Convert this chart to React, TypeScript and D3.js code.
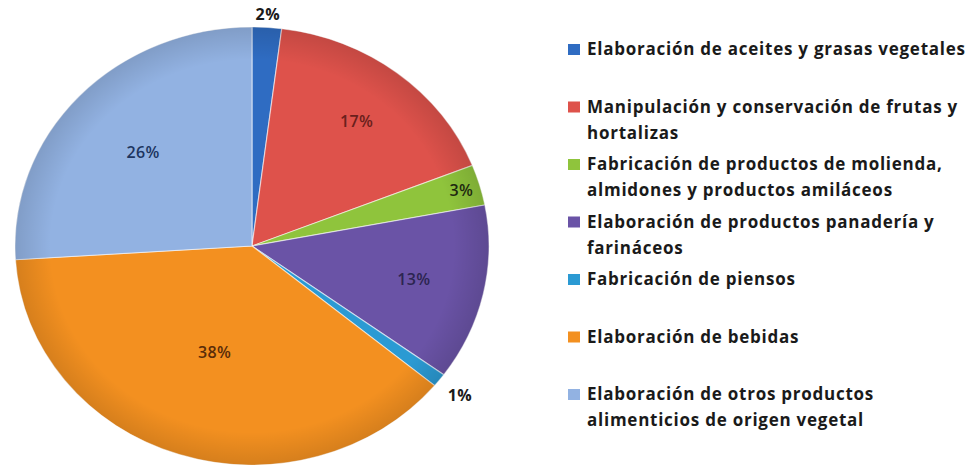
import React, { useRef, useEffect } from "react";
import * as d3 from "d3";

// Distribución por actividad (sector vegetal)
const categories = [
  ["Elaboración de aceites y grasas vegetales"],
  ["Manipulación y conservación de frutas y", "hortalizas"],
  ["Fabricación de productos de molienda,", "almidones y productos amiláceos"],
  ["Elaboración de productos panadería y", "farináceos"],
  ["Fabricación de piensos"],
  ["Elaboración de bebidas"],
  ["Elaboración de otros productos", "alimenticios de origen vegetal"],
];
const values = [2, 17, 3, 13, 1, 38, 26];
const colors = ["#2f6cc2", "#de524b", "#8fc43c", "#6a53a6", "#2b9ad3", "#f39020", "#92b2e2"];
const labelColors = ["#1a1a1a", "#6a1f1c", "#1f2a10", "#2c2550", "#1a1a1a", "#5a2c08", "#1d3560"];
// where Excel's "best fit" put each percentage label (fraction of the radius)
const labelRadius = [1.06, 0.72, 0.92, 0.7, 1.11, 0.51, 0.63];

const W = 973;
const H = 467;
const FONT = "'Open Sans', Lato, sans-serif";

export default function App() {
  const svgRef = useRef<SVGSVGElement>(null);

  useEffect(() => {
    const svg = d3.select(svgRef.current);
    svg.selectAll("*").remove();

    const cx = 252;
    const cy = 246;
    const rx = 237;
    const ry = 219;
    const k = ry / rx;

    const pie = d3.pie<number>().sort(null).value((d) => d);
    const arcs = pie(values);
    const arc = d3.arc<d3.PieArcDatum<number>>().innerRadius(0).outerRadius(rx);

    const g = svg
      .append("g")
      .attr("transform", `translate(${cx},${cy}) scale(1,${k})`);

    g.selectAll("path.slice")
      .data(arcs)
      .join("path")
      .attr("class", "slice")
      .attr("d", arc)
      .attr("fill", (d, i) => colors[i])
      .attr("stroke", "#ffffff")
      .attr("stroke-opacity", 0.55)
      .attr("stroke-width", 1.2);

    // subtle rim shading like the Excel bevel
    const defs = svg.append("defs");
    const grad = defs
      .append("radialGradient")
      .attr("id", "rim")
      .attr("gradientUnits", "userSpaceOnUse")
      .attr("cx", 0)
      .attr("cy", 0)
      .attr("r", rx);
    grad.append("stop").attr("offset", "0.85").attr("stop-color", "#000").attr("stop-opacity", 0);
    grad.append("stop").attr("offset", "1").attr("stop-color", "#000").attr("stop-opacity", 0.12);
    g.append("circle").attr("r", rx).attr("fill", "url(#rim)");

    // percentage labels
    svg
      .append("g")
      .selectAll("text")
      .data(arcs)
      .join("text")
      .attr("x", (d, i) => {
        const r = rx * labelRadius[i];
        return cx + d3.arc<d3.PieArcDatum<number>>().innerRadius(r).outerRadius(r).centroid(d)[0];
      })
      .attr("y", (d, i) => {
        const r = rx * labelRadius[i];
        return cy + k * d3.arc<d3.PieArcDatum<number>>().innerRadius(r).outerRadius(r).centroid(d)[1];
      })
      .attr("text-anchor", "middle")
      .attr("dominant-baseline", "central")
      .attr("font-family", FONT)
      .attr("font-size", 16)
      .attr("letter-spacing", 0.4)
      .attr("font-weight", (d, i) => (i === 0 || i === 4 ? 700 : 600))
      .attr("fill", (d, i) => labelColors[i])
      .text((d) => `${d.data}%`);

    // legend
    const ly = d3
      .scalePoint<number>()
      .domain(d3.range(categories.length))
      .range([55, 400]);
    const item = svg
      .append("g")
      .selectAll("g")
      .data(categories)
      .join("g")
      .attr("transform", (d, i) => `translate(568,${ly(i)})`);
    item
      .append("rect")
      .attr("x", 0)
      .attr("y", -11)
      .attr("width", 12)
      .attr("height", 11)
      .attr("fill", (d, i) => colors[i]);
    item
      .append("text")
      .attr("font-family", FONT)
      .attr("font-size", 17)
      .attr("font-weight", 700)
      .attr("letter-spacing", 0.75)
      .attr("fill", "#1a1a1a")
      .selectAll("tspan")
      .data((d) => d)
      .join("tspan")
      .attr("x", 19)
      .attr("y", (d, j) => j * 26)
      .text((d) => d);
  }, []);

  return (
    <svg
      ref={svgRef}
      width={W}
      height={H}
      style={{ position: "absolute", left: 0, top: 0, background: "#fff" }}
    />
  );
}
